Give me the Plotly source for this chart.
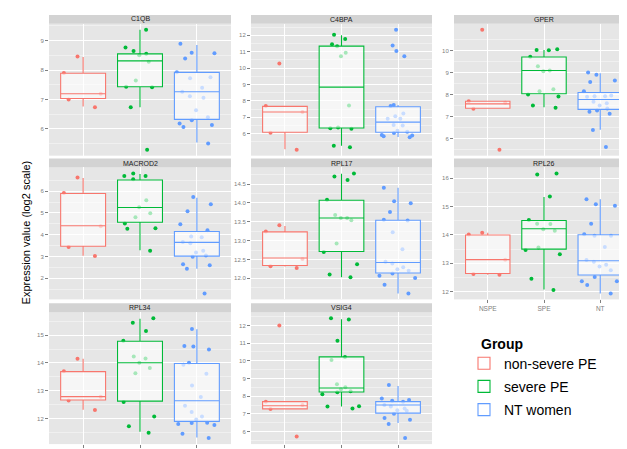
import plotly.graph_objects as go

genes = ["C1QB", "C4BPA", "GPER", "MACROD2", "RPL17", "RPL26", "RPL34", "VSIG4"]
groups = ["NSPE", "SPE", "NT"]
group_names = ["non-severe PE", "severe PE", "NT women"]
group_colors = ["#F8766D", "#00BA38", "#619CFF"]

# observed expression values per gene: [NSPE, SPE, NT]
c1qb = [
    [8.46, 7.90, 7.19, 7.00, 6.73],
    [9.37, 8.77, 8.65, 8.55, 8.50, 8.28, 7.64, 7.43, 7.41, 6.73, 5.29],
    [8.89, 8.59, 8.57, 8.39, 7.92, 7.75, 7.72, 7.40, 7.26, 7.11, 7.06, 6.63, 6.39, 6.29, 6.18, 6.13, 6.06, 5.50],
]
c4bpa = [
    [10.28, 7.68, 7.32, 6.06, 5.02],
    [12.04, 11.78, 11.46, 11.34, 10.94, 10.72, 7.72, 6.38, 6.32, 6.30, 5.26, 5.16],
    [12.34, 11.38, 11.04, 10.72, 7.74, 7.68, 7.22, 7.06, 6.90, 6.90, 6.52, 6.50, 6.18, 6.12, 6.04, 5.92, 5.88, 5.84, 5.78],
]
gper = [
    [10.96, 7.70, 7.63, 7.36, 5.49],
    [10.07, 10.04, 10.03, 9.73, 9.30, 9.10, 9.07, 8.25, 8.15, 8.01, 7.91, 7.51, 7.40],
    [9.01, 8.91, 8.64, 8.58, 8.16, 7.96, 7.93, 7.93, 7.90, 7.67, 7.61, 7.51, 7.37, 7.28, 7.22, 7.13, 6.39, 5.61],
]
macrod2 = [
    [6.63, 5.91, 4.39, 3.44, 3.02],
    [6.81, 6.69, 6.69, 6.54, 5.58, 5.26, 4.99, 4.80, 4.51, 4.30, 4.27, 3.26],
    [5.73, 5.40, 5.08, 4.48, 4.21, 3.92, 3.88, 3.67, 3.61, 3.26, 3.19, 3.05, 2.99, 2.65, 2.60, 2.44, 1.31],
]
rpl17 = [
    [13.41, 13.24, 12.51, 12.32, 12.27],
    [14.78, 14.70, 14.61, 14.08, 13.68, 13.60, 13.60, 13.54, 12.92, 12.70, 12.37, 12.10, 12.03],
    [14.40, 14.04, 13.99, 13.76, 13.55, 13.53, 13.22, 12.77, 12.44, 12.39, 12.29, 12.24, 12.20, 12.13, 12.07, 12.01, 11.83, 11.60],
]
rpl26 = [
    [14.08, 14.02, 13.13, 12.62, 12.60],
    [16.17, 16.13, 15.36, 14.53, 14.40, 14.39, 14.20, 14.15, 13.56, 13.47, 13.32, 12.46, 12.06],
    [15.26, 15.08, 15.03, 14.40, 14.03, 13.97, 13.97, 13.58, 13.12, 13.06, 12.95, 12.89, 12.76, 12.52, 12.37, 12.37, 12.24, 11.94],
]
rpl34 = [
    [14.15, 13.70, 12.79, 12.65, 12.31],
    [15.61, 15.45, 15.15, 14.80, 14.23, 14.16, 14.01, 13.82, 13.63, 12.60, 12.08, 11.73, 11.49],
    [15.22, 14.61, 14.59, 14.48, 14.01, 13.94, 13.61, 13.19, 12.78, 12.46, 12.24, 12.08, 11.97, 11.85, 11.84, 11.81, 11.77, 11.46, 11.30],
]
vsig4 = [
    [12.00, 7.69, 7.50, 7.28, 5.72],
    [12.41, 12.33, 11.13, 10.22, 10.04, 8.67, 8.50, 8.39, 8.28, 8.22, 8.11, 7.43, 7.41, 7.31],
    [8.63, 7.87, 7.78, 7.74, 7.69, 7.50, 7.41, 7.31, 7.20, 7.17, 7.00, 6.76, 6.67, 6.43, 5.63],
]
points = [c1qb, c4bpa, gper, macrod2, rpl17, rpl26, rpl34, vsig4]

# box statistics per gene: [NSPE, SPE, NT]
box_lower = [
    [6.76, 6.73, 5.53], [5.04, 5.26, 5.80], [7.36, 7.43, 6.40], [3.04, 3.29, 2.44],
    [12.31, 12.03, 11.60], [12.60, 12.08, 11.94], [12.32, 11.53, 11.32], [7.28, 7.41, 6.48],
]
box_q1 = [
    [7.03, 7.43, 6.32], [6.08, 6.34, 6.08], [7.38, 8.04, 7.33], [3.47, 4.57, 3.02],
    [12.34, 12.71, 12.14], [12.64, 13.50, 12.59], [12.67, 12.63, 11.90], [7.28, 8.24, 7.04],
]
box_median = [
    [7.19, 8.31, 7.26], [7.32, 8.84, 6.70], [7.58, 9.10, 7.78], [4.41, 5.25, 3.65],
    [12.54, 13.60, 12.42], [13.13, 14.22, 13.09], [12.79, 14.01, 12.64], [7.46, 8.46, 7.50],
]
box_q3 = [
    [7.89, 8.55, 7.92], [7.66, 11.34, 7.64], [7.70, 9.72, 8.10], [5.89, 6.51, 4.15],
    [13.23, 14.07, 13.54], [14.00, 14.51, 14.01], [13.69, 14.78, 13.98], [7.69, 10.22, 7.69],
]
box_upper = [
    [8.44, 9.37, 8.85], [7.66, 12.00, 7.74], [7.70, 10.04, 8.97], [6.60, 6.78, 5.70],
    [13.39, 14.77, 14.40], [14.08, 15.34, 15.26], [14.15, 15.59, 15.21], [7.69, 12.35, 8.57],
]

# y tick labels per panel
yticks = [
    [6, 7, 8, 9], [6, 7, 8, 9, 10, 11, 12], [6, 7, 8, 9, 10], [2, 3, 4, 5, 6],
    [12.0, 12.5, 13.0, 13.5, 14.0, 14.5], [12, 13, 14, 15, 16], [12, 13, 14, 15], [6, 7, 8, 9, 10, 11, 12],
]

W, H = 627, 449
col_px = [(41, 223), (243, 424), (446, 626)]
row_px = [(16, 150), (162, 296), (309, 443)]
STRIP = 9
PANEL_BG = "#E6E6E6"
STRIP_BG = "#D3D3D3"
GREY = "#808080"
FONT = "Liberation Sans, Arial, Helvetica, sans-serif"

fig = go.Figure()
layout = dict(
    width=W, height=H, autosize=False,
    margin=dict(l=0, r=0, t=0, b=0),
    paper_bgcolor="white", plot_bgcolor=PANEL_BG,
    boxmode="overlay",
    font=dict(family=FONT, color="#1A1A1A"),
    shapes=[], annotations=[],
)

for i, gene in enumerate(genes):
    r, c = divmod(i, 3)
    sfx = "" if i == 0 else str(i + 1)
    xa, ya = "x" + sfx, "y" + sfx
    xd = [col_px[c][0] / W, col_px[c][1] / W]
    yd = [1 - row_px[r][1] / H, 1 - row_px[r][0] / H]
    bottom = i in (5, 6, 7)

    allv = [v for g in points[i] for v in g] + box_lower[i] + box_upper[i]
    lo, hi = min(allv), max(allv)
    pad = 0.05 * (hi - lo)
    step = yticks[i][1] - yticks[i][0]

    # jittered points (drawn first so the translucent box fill sits on top)
    for g in range(3):
        fig.add_trace(go.Box(
            x=[groups[g]] * len(points[i][g]), y=points[i][g],
            xaxis=xa, yaxis=ya, width=0.8,
            boxpoints="all", jitter=1, pointpos=0,
            fillcolor="rgba(0,0,0,0)", line=dict(width=0, color="rgba(0,0,0,0)"),
            marker=dict(color=group_colors[g], size=4, line=dict(width=0)),
            showlegend=False, hoverinfo="skip",
        ))
    for g in range(3):
        fig.add_trace(go.Box(
            x=[groups[g]], q1=[box_q1[i][g]], median=[box_median[i][g]],
            q3=[box_q3[i][g]], lowerfence=[box_lower[i][g]], upperfence=[box_upper[i][g]],
            xaxis=xa, yaxis=ya, width=0.79, whiskerwidth=0, boxpoints=False,
            fillcolor="rgba(255,255,255,0.65)",
            line=dict(color=group_colors[g], width=1.1),
            name=group_names[g], legendgroup=group_names[g],
            showlegend=(i == 0), hoverinfo="skip",
        ))

    layout["xaxis" + sfx] = dict(
        domain=xd, anchor=ya, type="category",
        categoryorder="array", categoryarray=groups, range=[-0.6, 2.6],
        showgrid=True, gridcolor="white", gridwidth=1.1, zeroline=False, showline=False,
        ticks="outside" if bottom else "", ticklen=3, tickcolor=GREY,
        showticklabels=bottom, tickfont=dict(size=6.5, color=GREY), fixedrange=True,
    )
    layout["yaxis" + sfx] = dict(
        domain=yd, anchor=xa, range=[lo - pad, hi + pad],
        tickmode="array", tickvals=yticks[i],
        ticktext=[("%.1f" % v) if step < 1 else ("%d" % v) for v in yticks[i]],
        showgrid=True, gridcolor="white", gridwidth=1.1, zeroline=False, showline=False,
        ticks="outside", ticklen=3, tickcolor=GREY,
        tickfont=dict(size=6, color=GREY), fixedrange=True,
        minor=dict(tickmode="linear", tick0=yticks[i][0] + step / 2, dtick=step,
                   showgrid=True, gridcolor="#F0F0F0", gridwidth=0.6, ticks=""),
    )
    layout["shapes"].append(dict(
        type="rect", xref="paper", yref="paper",
        x0=xd[0], x1=xd[1], y0=yd[1], y1=yd[1] + STRIP / H,
        fillcolor=STRIP_BG, line=dict(width=0), layer="below",
    ))
    layout["annotations"].append(dict(
        text=gene, xref="paper", yref="paper", showarrow=False,
        x=(xd[0] + xd[1]) / 2, y=yd[1] + STRIP / H / 2, xanchor="center", yanchor="middle",
        font=dict(size=7, color="#1A1A1A"),
    ))

layout["annotations"].append(dict(
    text="Expression value (log2 scale)", xref="paper", yref="paper", showarrow=False,
    x=18 / W, y=1 - 228 / H, textangle=-90, xanchor="center", yanchor="middle",
    font=dict(size=11, color="black"),
))
layout["annotations"].append(dict(
    text="<b>Group</b>", xref="paper", yref="paper", showarrow=False,
    x=471 / W, y=1 - 341 / H, xanchor="left", yanchor="middle",
    font=dict(size=14, color="black"),
))

layout["legend"] = dict(
    x=456 / W, y=1 - 345 / H, xanchor="left", yanchor="top",
    font=dict(size=14, color="black"), bgcolor="rgba(255,255,255,0)",
    tracegroupgap=2,
)

fig.update_layout(**layout)
fig.write_html("out.html")
